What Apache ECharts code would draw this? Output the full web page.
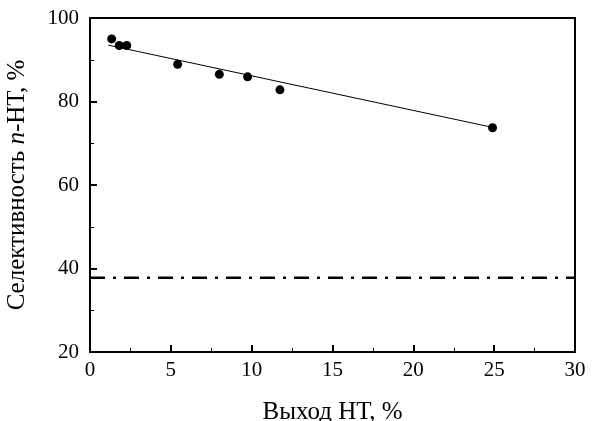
<!DOCTYPE html>
<html>
<head>
<meta charset="utf-8">
<script src="https://cdn.jsdelivr.net/npm/echarts@6/dist/echarts.min.js"></script>
<style>
  html, body { margin: 0; padding: 0; background: #fff; }
  #chart { width: 594px; height: 421px; }
</style>
</head>
<body>
<div id="chart"></div>
<script>
// measured points
const yieldX = [1.34, 1.81, 2.27, 5.42, 8.0, 9.75, 11.75, 24.9]
const selectivity = [95.0, 93.4, 93.4, 88.9, 86.5, 85.9, 82.8, 73.7]
// fitted line ends
const fitX = [1.13, 24.9]
const fitY = [93.5, 73.8]
// dash-dot reference level
const refLevel = 37.8
const refX = [0, 30]

const fontFamily = 'Liberation Serif, Times New Roman, serif'

const chart = echarts.init(document.getElementById('chart'))

chart.setOption({
  animation: false,
  backgroundColor: '#fff',
  grid: {
    left: 90, right: 19, top: 18, bottom: 69,
    outerBoundsMode: 'none',
    show: true, borderColor: '#000', borderWidth: 2
  },
  xAxis: {
    type: 'value', min: 0, max: 30, interval: 5,
    name: 'Выход НТ, %',
    nameLocation: 'middle', nameGap: 48,
    nameTextStyle: { fontFamily, fontSize: 25, color: '#000' },
    axisLine: { lineStyle: { color: '#000', width: 2 } },
    axisTick: { inside: true, length: 7, lineStyle: { color: '#000', width: 2 } },
    minorTick: { show: true, splitNumber: 2, length: 4, lineStyle: { color: '#000', width: 1 } },
    axisLabel: { fontFamily, fontSize: 21, color: '#000', margin: 8 },
    splitLine: { show: false }
  },
  yAxis: {
    type: 'value', min: 20, max: 100, interval: 20,
    name: '{a|Селективность }{i|n}{a|-НТ, %}',
    nameLocation: 'middle', nameGap: 60,
    nameTextStyle: {
      fontFamily, fontSize: 25, color: '#000',
      rich: {
        a: { fontFamily, fontSize: 25, color: '#000' },
        i: { fontFamily, fontSize: 25, color: '#000', fontStyle: 'italic' }
      }
    },
    axisLine: { lineStyle: { color: '#000', width: 2 } },
    axisTick: { inside: true, length: 7, lineStyle: { color: '#000', width: 2 } },
    minorTick: { show: true, splitNumber: 2, length: 4, lineStyle: { color: '#000', width: 1 } },
    axisLabel: { fontFamily, fontSize: 21, color: '#000', margin: 11 },
    splitLine: { show: false }
  },
  series: [
    {
      type: 'line',
      data: fitX.map((x, i) => [x, fitY[i]]),
      symbol: 'none',
      lineStyle: { color: '#000', width: 1 },
      z: 2
    },
    {
      type: 'scatter',
      data: yieldX.map((x, i) => [x, selectivity[i]]),
      symbol: 'circle',
      symbolSize: 9,
      itemStyle: { color: '#000', opacity: 1 },
      z: 3
    },
    {
      type: 'line',
      data: refX.map(x => [x, refLevel]),
      symbol: 'none',
      lineStyle: { color: '#000', width: 2.5, type: [15, 8, 3, 8] },
      z: 2
    }
  ]
})
</script>
</body>
</html>
